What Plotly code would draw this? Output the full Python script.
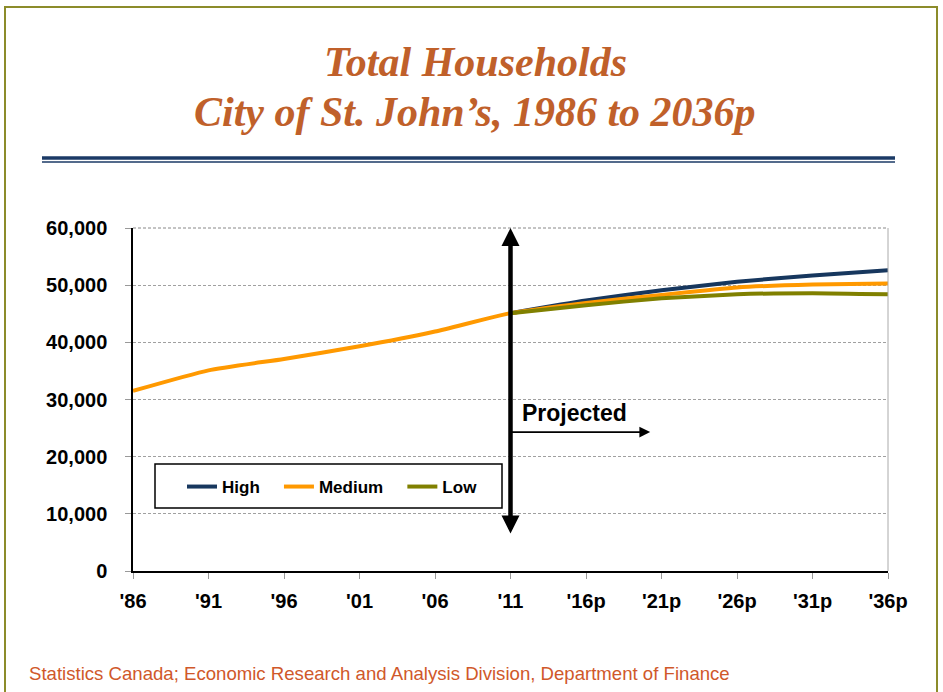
import plotly.graph_objects as go

years = ["'86", "'91", "'96", "'01", "'06", "'11", "'16p", "'21p", "'26p", "'31p", "'36p"]
high = [None, None, None, None, None, 45100, 47300, 49100, 50600, 51700, 52600]
medium = [31500, 35100, 37100, 39300, 41900, 45100, 46900, 48300, 49600, 50100, 50300]
low = [None, None, None, None, None, 45100, 46500, 47700, 48400, 48600, 48400]
y_ticks = [0, 10000, 20000, 30000, 40000, 50000, 60000]
y_tick_text = ["0", "10,000", "20,000", "30,000", "40,000", "50,000", "60,000"]

W, H = 943, 692
# plot area in page pixels
L, R, T, B = 133, 888, 228, 571


def px(x):
    return (x - L) / (R - L)


def py(y):
    return (B - y) / (B - T)


PAD = "\u00a0\u00a0\u00a0"  # spacing between legend entries

fig = go.Figure()
fig.add_trace(go.Scatter(x=years, y=high, name="High" + PAD, mode="lines",
                         line=dict(color="#17375E", width=4, shape="spline", smoothing=0.5)))
fig.add_trace(go.Scatter(x=years, y=medium, name="Medium" + PAD, mode="lines",
                         line=dict(color="#FF9900", width=4, shape="spline", smoothing=0.5)))
fig.add_trace(go.Scatter(x=years, y=low, name="Low", mode="lines",
                         line=dict(color="#808000", width=4, shape="spline", smoothing=0.5)))

tick_font = dict(family="Liberation Sans, Arial", size=20, color="#000000", weight="bold")

fig.update_layout(
    width=W, height=H,
    margin=dict(l=L, r=W - R, t=T, b=H - B),
    paper_bgcolor="white", plot_bgcolor="white",
    showlegend=True,
    legend=dict(orientation="h", x=px(182), y=py(487), xanchor="left", yanchor="middle",
                borderwidth=0, bgcolor="rgba(0,0,0,0)",
                font=dict(family="Liberation Sans, Arial", size=17, color="#000000", weight="bold"),
                itemwidth=30, tracegroupgap=0),
    xaxis=dict(type="category", range=[0, 10], showgrid=False, zeroline=False,
               showline=True, linecolor="#000000", linewidth=1.5,
               ticks="outside", ticklen=6, tickcolor="#999999",
               tickfont=tick_font, ticklabelstandoff=5),
    yaxis=dict(range=[0, 60000], tickvals=y_ticks, ticktext=y_tick_text,
               showgrid=True, gridcolor="#A0A0A0", griddash="3px,2px", gridwidth=1,
               zeroline=False, showline=True, linecolor="#000000", linewidth=1.5,
               ticks="outside", ticklen=6, tickcolor="#999999",
               tickfont=tick_font, ticklabelstandoff=14),
)

shapes = []
# page border
shapes.append(dict(type="rect", xref="paper", yref="paper", x0=px(5), x1=px(937), y0=py(720), y1=py(7),
                   line=dict(color="#8C8C2A", width=2), layer="below"))
# double rule under title
shapes.append(dict(type="line", xref="paper", yref="paper", x0=px(42), x1=px(895), y0=py(158), y1=py(158),
                   line=dict(color="#1B3A66", width=3.5)))
shapes.append(dict(type="line", xref="paper", yref="paper", x0=px(42), x1=px(895), y0=py(162), y1=py(162),
                   line=dict(color="#1B3A66", width=1.5)))
# right plot border and top dashed grid line
shapes.append(dict(type="line", xref="paper", yref="paper", x0=1, x1=1, y0=0, y1=1,
                   line=dict(color="#AAAAAA", width=1)))
shapes.append(dict(type="line", xref="paper", yref="paper", x0=0, x1=1, y0=1, y1=1,
                   line=dict(color="#888888", width=1, dash="3px,2px")))
# legend box
shapes.append(dict(type="rect", xref="paper", yref="paper", x0=px(155), x1=px(502), y0=py(508), y1=py(464),
                   line=dict(color="#000000", width=1.5), fillcolor="white", layer="below"))
fig.update_layout(shapes=shapes)

title_font = dict(family="Liberation Serif, Times New Roman, serif", size=42, color="#C0602A")
annotations = [
    dict(text="<b><i>Total Households</i></b>", xref="paper", yref="paper", x=px(475), y=py(62),
         xanchor="center", yanchor="middle", showarrow=False, font=title_font),
    dict(text="<b><i>City of St. John’s, 1986 to 2036p</i></b>", xref="paper", yref="paper", x=px(475), y=py(112),
         xanchor="center", yanchor="middle", showarrow=False, font=title_font),
    dict(text="Statistics Canada; Economic Research and Analysis Division, Department of Finance",
         xref="paper", yref="paper", x=px(27), y=py(673), xanchor="left", yanchor="middle", showarrow=False,
         font=dict(family="Liberation Sans, Arial", size=18.6, color="#D0582A")),
    # vertical double-headed arrow
    dict(x="'11", y=60000, ax="'11", ay=6300, xref="x", yref="y", axref="x", ayref="y",
         text="", showarrow=True, arrowhead=2, arrowside="end+start", arrowwidth=4.5, arrowsize=0.8,
         arrowcolor="#000000"),
    # horizontal arrow
    dict(x=6.85, y=24300, ax="'11", ay=24300, xref="x", yref="y", axref="x", ayref="y",
         text="", showarrow=True, arrowhead=2, arrowwidth=1.8, arrowsize=1.2, arrowcolor="#000000"),
    dict(text="<b>Projected</b>", xref="paper", yref="paper", x=px(520), y=py(413), xanchor="left",
         yanchor="middle", showarrow=False, font=dict(family="Liberation Sans, Arial", size=23, color="#000000")),
]
fig.update_layout(annotations=annotations)

fig.write_html("out.html", config={"displayModeBar": False},
               post_script="document.body.style.margin='0';document.body.style.overflow='hidden';")
